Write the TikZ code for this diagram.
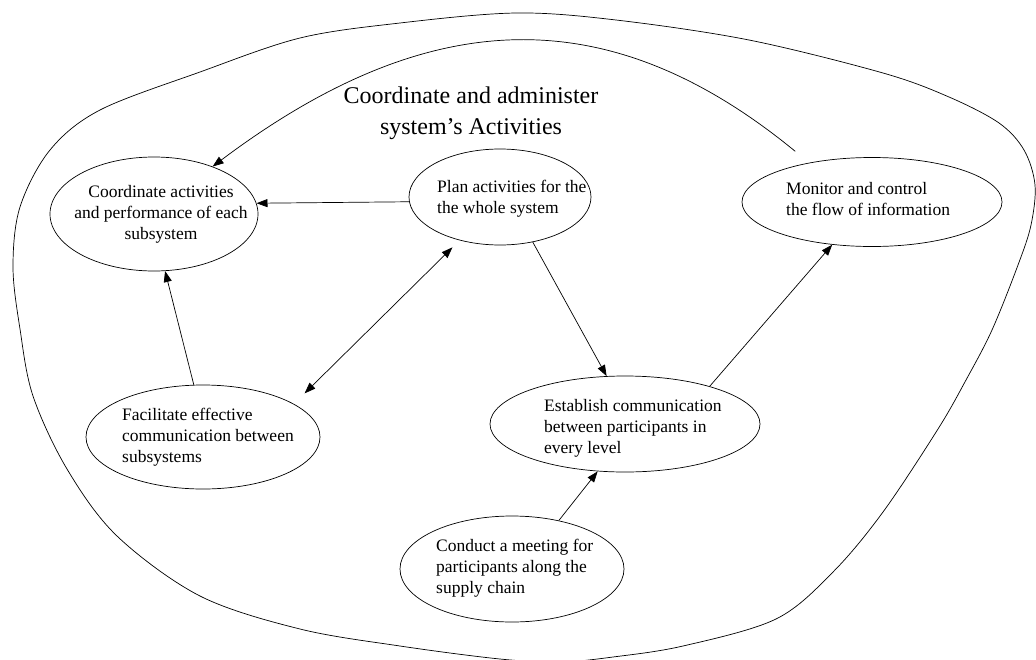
\documentclass[tikz,border=0pt]{standalone}
\usepackage{fontspec}
\setmainfont{Liberation Serif}
\usetikzlibrary{shapes.geometric,arrows.meta}
\begin{document}
\begin{tikzpicture}[x=1pt,y=-1pt,
  bubble/.style={draw, ellipse, inner sep=0pt, line width=0.7pt},
  bubbletext/.style={inner sep=0pt, font=\fontsize{17.5}{21}\selectfont, align=left},
  link/.style={line width=0.7pt, -{Triangle[length=11pt,width=8pt]}},
  twoway/.style={line width=0.7pt, {Triangle[length=11pt,width=8pt]}-{Triangle[length=11pt,width=8pt]}}]
\useasboundingbox (0,0) rectangle (1036,659);
\clip (0,0) rectangle (1036,659);

% enclosing boundary of the whole system
\draw[line width=0.7pt] plot[smooth cycle, tension=0.55] coordinates {
  (516,13) (616,20) (749,40) (883,73) (949,97) (999,123) (1024,150)
  (1035,185) (1031,225) (1018,265) (992,330) (966,380) (938,429)
  (883,512) (833,572) (776,619) (683,646) (613,657) (560,662) (500,659)
  (400,646) (300,629) (200,596) (117,536) (67,469) (33,396) (20,329)
  (13,267) (20,207) (50,150) (100,110) (200,72) (300,38) (400,23)};

% title
\node[inner sep=0pt, align=center, font=\fontsize{24}{31}\selectfont] (title) at (471,113)
  {Coordinate and administer\\system’s Activities};

% activity bubbles
\node[bubble, minimum width=208pt, minimum height=114pt] (coord) at (154,214) {};
\node[bubble, minimum width=182pt, minimum height=96pt]  (plan)  at (500,197) {};
\node[bubble, minimum width=260pt, minimum height=89pt]  (mon)   at (872,202) {};
\node[bubble, minimum width=234pt, minimum height=104pt] (facil) at (203,437) {};
\node[bubble, minimum width=270pt, minimum height=96pt]  (estab) at (625,424) {};
\node[bubble, minimum width=224pt, minimum height=106pt] (meet)  at (512,569) {};

% bubble texts
\node[bubbletext, align=center] (coordtxt) at (161,214)
  {Coordinate activities\\and performance of each\\subsystem};
\node[bubbletext, anchor=west] (plantxt) at (437,199)
  {Plan activities for the\\the whole system};
\node[bubbletext, anchor=west] (montxt) at (786,199)
  {Monitor and control\\the flow of information};
\node[bubbletext, anchor=west] (faciltxt) at (122,437)
  {Facilitate effective\\communication between\\subsystems};
\node[bubbletext, anchor=west] (estabtxt) at (544,428)
  {Establish communication\\between participants in\\every level};
\node[bubbletext, anchor=west] (meettxt) at (436,568)
  {Conduct a meeting for\\participants along the\\supply chain};

% connectors
\draw[link] (plan.183) -- (coord.6.6);
\draw[link] (facil.100.7) -- (coord.281.5);
\draw[twoway, shorten <=10pt, shorten >=15pt] (plan.227.4) -- (facil.20.9);
\draw[link] (plan.306.3) -- (estab.111.2);
\draw[link] (estab.24) -- (mon.227.7);
\draw[link] (meet.46.1) -- (estab.240.4);
\draw[link, shorten <=18pt] (mon.148) .. controls (612,1) and (433,1) .. (coord.39.7);
\end{tikzpicture}
\end{document}
